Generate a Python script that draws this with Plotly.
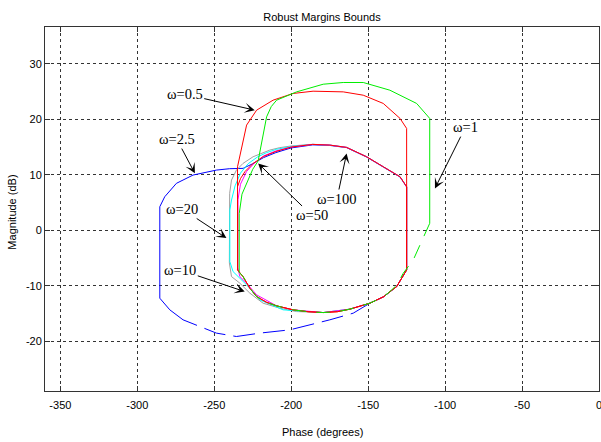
import plotly.graph_objects as go

# ---------------- data (phase in degrees, magnitude in dB) ----------------
X_TICKS = [-350, -300, -250, -200, -150, -100, -50, 0]
X_TICK_LABELS = ["-350", "-300", "-250", "-200", "-150", "-100", "-50", "0"]
Y_TICKS = [-20, -10, 0, 10, 20, 30]
Y_TICK_LABELS = ["-20", "-10", "0", "10", "20", "30"]

BLUE_PH = [-285.4, -285.4, -282.2, -274.6, -263.8, -248.6, -240.0, -231.3, -225.0, -218.0, -210.0, -200.0,
           -186.0, -175.0, -164.0, -151.0, -140.2, -129.3, -125.0, -125.0, -131.5, -140.0, -148.9,
           -159.7, -174.9, -200.9, -220.4, -235.6, -248.6, -270.3, -278.9, -285.4]
BLUE_MAG = [-12.26, 4.24, 6.04, 8.46, 9.95, 10.85, 11.1, 11.16, 12.0, 13.1, 14.0, 14.85,
            15.4, 15.3, 14.9, 13.2, 11.4, 9.6, 7.8, -7.16, -10.17, -12.0, -13.16,
            -14.96, -16.16, -17.97, -18.56, -19.17, -18.56, -16.16, -14.36, -12.26]

GRAY_PH = [-240.2, -240.0, -238.8, -235.6, -231.3, -224.8, -213.9, -207.4, -200.0, -186.0, -175.0,
           -164.0, -151.0, -140.2, -129.3, -125.0, -125.0, -131.5, -140.0, -148.9, -161.9, -179.2,
           -196.5, -207.4, -218.3, -226.9, -233.4, -238.8, -240.2]
GRAY_MAG = [-5.9, 6.66, 9.05, 10.85, 12.06, 13.25, 14.46, 14.9, 15.2, 15.5, 15.36,
            14.94, 13.25, 11.45, 9.65, 7.85, -7.16, -10.17, -12.0, -13.16, -14.24, -14.85,
            -14.67, -14.06, -13.16, -11.35, -9.55, -8.36, -5.9]

CYAN_PH = [-239.9, -239.9, -238.8, -236.5, -233.0, -228.0, -222.0, -216.0, -209.5, -200.0, -186.0,
           -175.0, -164.0, -151.0, -140.2, -129.3, -125.0, -125.0, -131.5, -140.0, -148.9, -161.9,
           -179.2, -198.8, -205.3, -220.4, -229.0, -237.8, -239.9]
CYAN_MAG = [-5.66, 3.65, 5.45, 8.0, 10.3, 12.0, 13.2, 14.0, 14.6, 15.1, 15.48,
            15.36, 14.94, 13.25, 11.45, 9.65, 7.85, -7.16, -10.17, -12.0, -13.16, -14.24,
            -14.85, -14.5, -14.36, -12.56, -9.86, -7.46, -5.66]

MAGENTA_PH = [-234.6, -234.6, -233.0, -229.0, -224.0, -218.0, -210.0, -200.0, -186.0, -175.0, -164.0,
              -151.0, -140.2, -129.3, -125.0, -125.0, -131.5, -140.0, -148.9, -161.9, -179.2, -198.8,
              -209.5, -222.5, -229.0, -233.4, -234.6]
MAGENTA_MAG = [-6.8, 5.5, 8.3, 10.6, 12.1, 13.4, 14.3, 15.0, 15.48, 15.36, 14.94,
               13.25, 11.45, 9.65, 7.85, -7.16, -10.17, -12.0, -13.16, -14.24, -14.85, -14.36,
               -13.64, -11.66, -9.55, -8.36, -6.8]

RED05_PH = [-234.9, -234.9, -229.0, -222.5, -211.8, -198.8, -185.8, -166.2, -153.2, -140.2, -129.3,
            -125.0, -125.0, -131.5, -135.9, -140.0, -148.9, -161.9, -170.0, -179.2, -189.0, -198.8,
            -209.5, -216.0, -222.5, -226.9, -231.3, -234.9]
RED05_MAG = [-7.16, 11.45, 18.96, 21.66, 23.46, 24.67, 25.08, 24.96, 24.36, 22.87, 20.17,
             18.36, -7.16, -10.17, -11.07, -12.0, -13.16, -14.24, -14.7, -14.85, -14.7, -14.36,
             -13.64, -13.0, -11.97, -10.46, -8.36, -7.16]

RED100_PH = [-234.9, -234.9, -233.0, -230.0, -225.0, -218.0, -210.0, -200.0, -186.0, -175.0, -164.0,
             -151.0, -140.2, -129.3, -125.0, -125.0, -131.5, -135.9, -140.0, -148.9, -161.9, -170.0,
             -179.2, -189.0, -198.8, -209.5, -216.0, -222.5, -226.9, -231.3, -234.9]
RED100_MAG = [-7.16, 7.85, 9.3, 10.6, 12.0, 13.3, 14.2, 15.0, 15.48, 15.36, 14.94,
              13.25, 11.45, 9.65, 7.85, -7.16, -10.17, -11.07, -12.0, -13.16, -14.24, -14.7,
              -14.85, -14.7, -14.36, -13.64, -13.0, -11.97, -10.46, -8.36, -7.16]

GREEN_PH = [-233.8, -233.8, -232.0, -229.0, -225.0, -221.5, -218.5, -216.0, -213.0, -209.5, -196.5,
            -179.2, -166.2, -153.2, -135.9, -118.5, -110.0, -110.0, -120.7, -127.2, -131.5, -135.9,
            -140.0, -148.9, -161.9, -170.0, -179.2, -189.0, -198.8, -209.5, -216.0, -222.5, -226.9,
            -231.3, -233.8]
GREEN_MAG = [-7.6, 3.0, 6.5, 8.5, 11.0, 12.5, 17.0, 20.45, 22.3, 23.46, 24.96,
             26.34, 26.65, 26.65, 25.26, 22.87, 20.17, 1.25, -5.36, -7.75, -9.9, -11.07,
             -12.0, -13.16, -14.24, -14.7, -14.85, -14.7, -14.36, -13.64, -13.0, -11.97, -10.46,
             -8.36, -7.6]

LABELS = ["ω=0.5", "ω=2.5", "ω=100", "ω=1", "ω=50", "ω=20", "ω=10"]
LABEL_PH = [-269.2, -274.4, -170.3, -86.8, -186.6, -270.8, -272.1]
LABEL_MAG = [24.54, 16.44, 5.63, 18.6, 2.66, 3.83, -7.16]
TIP_PH = [-223.7, -262.6, -164.0, -106.6, -221.5, -242.1, -230.2]
TIP_MAG = [21.66, 10.26, 13.86, 7.55, 12.06, -1.42, -11.07]

# ---------------- figure ----------------
fig = go.Figure()


def add_curve(ph, mag, color, dash_from=None, dash_to=None, dash="solid"):
    if dash_from is None:
        fig.add_trace(go.Scatter(x=ph, y=mag, mode="lines",
                                 line=dict(color=color, width=1), hoverinfo="skip"))
        return
    fig.add_trace(go.Scatter(x=ph[:dash_from + 1], y=mag[:dash_from + 1], mode="lines",
                             line=dict(color=color, width=1), hoverinfo="skip"))
    fig.add_trace(go.Scatter(x=ph[dash_from:dash_to + 1], y=mag[dash_from:dash_to + 1], mode="lines",
                             line=dict(color=color, width=1, dash=dash), hoverinfo="skip"))
    fig.add_trace(go.Scatter(x=ph[dash_to:], y=mag[dash_to:], mode="lines",
                             line=dict(color=color, width=1), hoverinfo="skip"))


add_curve(BLUE_PH, BLUE_MAG, "#0000ff", 22, 29, "22px,8px")
add_curve(GRAY_PH, GRAY_MAG, "#a0a0a0")
add_curve(CYAN_PH, CYAN_MAG, "#00ffff")
add_curve(MAGENTA_PH, MAGENTA_MAG, "#ff00ff")
add_curve(RED05_PH, RED05_MAG, "#ff0000")
add_curve(RED100_PH, RED100_MAG, "#ff0000")
add_curve(GREEN_PH, GREEN_MAG, "#00ee00", 17, 33, "14px,10px")

for txt, lx, ly, tx, ty in zip(LABELS, LABEL_PH, LABEL_MAG, TIP_PH, TIP_MAG):
    fig.add_annotation(x=tx, y=ty, xref="x", yref="y", ax=lx, ay=ly, axref="x", ayref="y",
                       text=txt, showarrow=True, arrowhead=3, arrowsize=1.7, arrowwidth=1,
                       arrowcolor="black", standoff=0,
                       font=dict(family="Liberation Serif, Times New Roman, serif", size=14.5,
                                 color="black"))

fig.add_annotation(text="Phase (degrees)", xref="paper", yref="paper", x=0.5, y=0,
                   xanchor="center", yanchor="middle", yshift=-41, showarrow=False,
                   font=dict(family="Liberation Sans, Arial", size=11, color="black"))
fig.add_annotation(text="Magnitude (dB)", xref="paper", yref="paper", x=0, y=0.49,
                   xanchor="center", yanchor="middle", xshift=-33, textangle=-90, showarrow=False,
                   font=dict(family="Liberation Sans, Arial", size=11, color="black"))

axis_common = dict(ticks="inside", ticklen=5, tickcolor="#333333", showline=True,
                   linecolor="#333333", linewidth=1, mirror="ticks", showgrid=True,
                   gridcolor="#333333", gridwidth=1, griddash="3px,3px", zeroline=False,
                   ticklabeloverflow="allow",
                   tickfont=dict(family="Liberation Sans, Arial", size=11, color="black"))

fig.update_xaxes(range=[-360, 0], tickmode="array", tickvals=X_TICKS, ticktext=X_TICK_LABELS,
                 ticklabelstandoff=4, **axis_common)
fig.update_yaxes(range=[-29, 36.66], tickmode="array", tickvals=Y_TICKS, ticktext=Y_TICK_LABELS,
                 **axis_common)

fig.update_layout(width=601, height=442, margin=dict(l=45, r=2, t=27, b=51, autoexpand=False),
                  paper_bgcolor="white", plot_bgcolor="white", showlegend=False,
                  title=dict(text="Robust Margins Bounds", x=0.5, xref="paper", xanchor="center",
                             y=1 - 17 / 442, yref="container", yanchor="middle",
                             font=dict(family="Liberation Sans, Arial", size=11, color="black")))

fig.write_html("out.html", config={"displayModeBar": False},
               post_script="document.body.style.margin='0';document.body.style.overflow='hidden';")
